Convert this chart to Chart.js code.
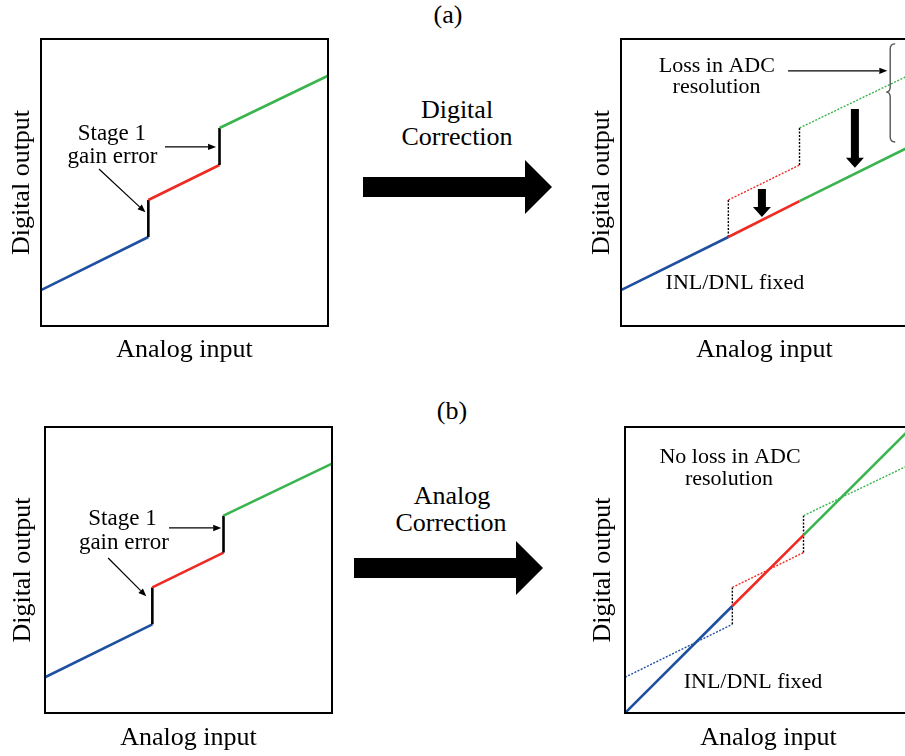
<!DOCTYPE html>
<html>
<head>
<meta charset="utf-8">
<script src="https://cdn.jsdelivr.net/npm/chart.js@4.4.1/dist/chart.umd.min.js"></script>
<style>
  html, body { margin: 0; padding: 0; background: #fff; overflow: hidden; width: 905px; height: 756px; }
  body { position: relative; font-family: "Liberation Serif", "Times New Roman", serif; color: #000; }
  canvas { position: absolute; }
  .lbl { position: absolute; font-size: 26px; line-height: 1; white-space: nowrap; transform: translate(-50%, -50%); }
  .bigArrow { position: absolute; width: 189px; height: 54px; background: #000;
    clip-path: polygon(0 17px, 162px 17px, 162px 0, 189px 27px, 162px 54px, 162px 37px, 0 37px); }
</style>
</head>
<body>
<div class="lbl" style="left:448px; top:15px;">(a)</div>
<div class="lbl" style="left:457px; top:110px;">Digital</div>
<div class="lbl" style="left:457px; top:137px;">Correction</div>
<div class="bigArrow" style="left:363px; top:160px;"></div>

<div class="lbl" style="left:452px; top:411px;">(b)</div>
<div class="lbl" style="left:452px; top:496px;">Analog</div>
<div class="lbl" style="left:451px; top:523px;">Correction</div>
<div class="bigArrow" style="left:354px; top:541px;"></div>

<canvas id="tl" width="340" height="380" style="left:0; top:0;"></canvas>
<canvas id="tr" width="340" height="380" style="left:580px; top:0;"></canvas>
<canvas id="bl" width="340" height="366" style="left:0; top:390px;"></canvas>
<canvas id="br" width="340" height="366" style="left:580px; top:390px;"></canvas>

<script>
// --- DATA (percent of full scale) ---
// analog input where the stage-1 sub-range changes
const stepX = [0, 37.4, 62.2, 100];
// uncorrected output of each sub-range: [start, end]
const blueY = [12.5, 31.0];
const redY = [43.9, 56.1];
const greenY = [69.0, 87.2];
// after digital correction: segments moved down onto one line
const digitalY = [12.5, 31.0, 43.5, 62.2];
// after analog correction: gain restored, one full-scale line
const analogY = [0, 37.4, 62.2, 100];

const BLUE = '#1f4f9f';
const RED = '#ee2a22';
const GREEN = '#3ab44e';
const BLACK = '#000000';

const stairColors = [BLUE, BLACK, RED, BLACK, GREEN];
const lineColors = [BLUE, RED, GREEN];

const stairPoints = [
    { x: stepX[0], y: blueY[0] }, { x: stepX[1], y: blueY[1] },
    { x: stepX[1], y: redY[0] }, { x: stepX[2], y: redY[1] },
    { x: stepX[2], y: greenY[0] }, { x: stepX[3], y: greenY[1] }
];
const digitalPoints = stepX.map((x, i) => ({ x: x, y: digitalY[i] }));
const analogPoints = stepX.map((x, i) => ({ x: x, y: analogY[i] }));

// --- DATASET HELPERS ---
function solid(points, colors) {
    return {
        data: points, showLine: true, pointRadius: 0, borderWidth: 2.6,
        borderColor: colors[0], segment: { borderColor: c => colors[c.p0DataIndex] }
    };
}
function dotted(points, colors) {
    return {
        data: points, showLine: true, pointRadius: 0, borderWidth: 1.4, borderDash: [2, 1.5],
        borderColor: colors[0], segment: { borderColor: c => colors[c.p0DataIndex] }
    };
}

// --- ANNOTATIONS (frame, labels, arrows, brace) ---
function notesPlugin(items) {
    return {
        id: 'notes',
        afterDraw(chart) {
            const { ctx, chartArea: a, scales: { x, y } } = chart;
            const px = v => x.getPixelForValue(v);
            const py = v => y.getPixelForValue(v);
            ctx.save();
            ctx.strokeStyle = '#000';
            ctx.lineWidth = 2;
            ctx.strokeRect(a.left, a.top, a.right - a.left, a.bottom - a.top);
            ctx.fillStyle = '#000';
            ctx.textAlign = 'center';
            ctx.textBaseline = 'middle';
            items.forEach(it => {
                if (it.text) {
                    ctx.font = `${it.size || 22}px "Liberation Serif", serif`;
                    ctx.fillText(it.text, px(it.x), py(it.y));
                } else if (it.arrow) {
                    const x0 = px(it.arrow[0]), y0 = py(it.arrow[1]);
                    const x1 = px(it.arrow[2]), y1 = py(it.arrow[3]);
                    const ang = Math.atan2(y1 - y0, x1 - x0);
                    const hl = 8, hw = 3.2;
                    ctx.lineWidth = 1.2;
                    ctx.strokeStyle = it.color || '#000';
                    ctx.beginPath();
                    ctx.moveTo(x0, y0);
                    ctx.lineTo(x1 - hl * Math.cos(ang), y1 - hl * Math.sin(ang));
                    ctx.stroke();
                    ctx.beginPath();
                    ctx.moveTo(x1, y1);
                    ctx.lineTo(x1 - hl * Math.cos(ang) + hw * Math.sin(ang), y1 - hl * Math.sin(ang) - hw * Math.cos(ang));
                    ctx.lineTo(x1 - hl * Math.cos(ang) - hw * Math.sin(ang), y1 - hl * Math.sin(ang) + hw * Math.cos(ang));
                    ctx.closePath();
                    ctx.fill();
                } else if (it.down) {
                    const cx = px(it.down[0]), yt = py(it.down[1]), yb = py(it.down[2]);
                    ctx.beginPath();
                    ctx.moveTo(cx - 4, yt);
                    ctx.lineTo(cx + 4, yt);
                    ctx.lineTo(cx + 4, yb - 10);
                    ctx.lineTo(cx + 9, yb - 10);
                    ctx.lineTo(cx, yb);
                    ctx.lineTo(cx - 9, yb - 10);
                    ctx.lineTo(cx - 4, yb - 10);
                    ctx.closePath();
                    ctx.fill();
                } else if (it.brace) {
                    const bx = px(it.brace[0]);
                    const yTop = py(it.brace[1]), yMid = py(it.brace[2]), yBot = py(it.brace[3]);
                    ctx.strokeStyle = '#555';
                    ctx.lineWidth = 1.4;
                    ctx.beginPath();
                    ctx.moveTo(bx + 5, yTop);
                    ctx.quadraticCurveTo(bx, yTop, bx, yTop + 5);
                    ctx.lineTo(bx, yMid - 5);
                    ctx.quadraticCurveTo(bx, yMid, bx - 4, yMid);
                    ctx.quadraticCurveTo(bx, yMid, bx, yMid + 5);
                    ctx.lineTo(bx, yBot - 5);
                    ctx.quadraticCurveTo(bx, yBot, bx + 5, yBot);
                    ctx.stroke();
                }
            });
            ctx.restore();
        }
    };
}

// --- CHART BUILDER ---
const TITLE_FONT = { family: '"Liberation Serif", serif', size: 26, lineHeight: 1.2 };
const TITLE_H = 26 * 1.2;

function buildPanel(id, canvasBox, area, yTitleX, xTitleY, datasets, notes) {
    const [cl, ct, cw, ch] = canvasBox;
    const [L, T, R, B] = area;
    const xPadTop = xTitleY - B - TITLE_H / 2;
    const yPadBottom = L - yTitleX - TITLE_H / 2;
    const padding = {
        left: yTitleX - TITLE_H / 2 - cl,
        top: T - ct,
        right: cl + cw - R,
        bottom: ct + ch - (B + TITLE_H + xPadTop)
    };
    return new Chart(document.getElementById(id), {
        type: 'scatter',
        data: { datasets: datasets },
        options: {
            responsive: false,
            animation: false,
            devicePixelRatio: 1,
            layout: { padding: padding },
            plugins: { legend: { display: false }, tooltip: { enabled: false } },
            scales: {
                x: {
                    type: 'linear', min: 0, max: 100,
                    ticks: { display: false },
                    grid: { display: false, drawTicks: false },
                    border: { display: false },
                    title: { display: true, text: 'Analog input', color: '#000', font: TITLE_FONT, padding: { top: xPadTop, bottom: 0 } }
                },
                y: {
                    type: 'linear', min: 0, max: 100,
                    ticks: { display: false },
                    grid: { display: false, drawTicks: false },
                    border: { display: false },
                    title: { display: true, text: 'Digital output', color: '#000', font: TITLE_FONT, padding: { top: 0, bottom: yPadBottom } }
                }
            }
        },
        plugins: [notesPlugin(notes)]
    });
}

// (a) top-left: stage 1 gain error
buildPanel('tl', [0, 0, 340, 380], [41, 39, 328, 326], 22, 350,
    [solid(stairPoints, stairColors)],
    [
        { text: 'Stage 1', x: 24.7, y: 67.0, size: 23 },
        { text: 'gain error', x: 24.9, y: 59.0, size: 23 },
        { arrow: [43.2, 62.4, 61.0, 62.4] },
        { arrow: [20.2, 54.7, 36.4, 39.6] }
    ]);

// (a) top-right: digital correction
buildPanel('tr', [580, 0, 340, 380], [621, 39, 908, 326], 602, 350,
    [solid(digitalPoints, lineColors), dotted(stairPoints, stairColors)],
    [
        { text: 'Loss in ADC', x: 33.4, y: 90.6 },
        { text: 'resolution', x: 33.3, y: 83.3 },
        { text: 'INL/DNL fixed', x: 39.7, y: 15.0 },
        { arrow: [58.2, 88.9, 92.8, 88.9] },
        { brace: [93.8, 98.3, 81.5, 64.1] },
        { down: [49.1, 47.7, 38.0] },
        { down: [81.5, 75.6, 55.1] }
    ]);

// (b) bottom-left: stage 1 gain error
buildPanel('bl', [0, 390, 340, 366], [45, 427, 332, 713], 23, 738,
    [solid(stairPoints, stairColors)],
    [
        { text: 'Stage 1', x: 27.0, y: 67.8, size: 23 },
        { text: 'gain error', x: 27.5, y: 59.4, size: 23 },
        { arrow: [43.2, 64.7, 61.4, 64.7] },
        { arrow: [22.0, 54.2, 35.3, 40.8] }
    ]);

// (b) bottom-right: analog correction
buildPanel('br', [580, 390, 340, 366], [625, 427, 912, 713], 603, 738,
    [solid(analogPoints, lineColors), dotted(stairPoints, stairColors)],
    [
        { text: 'No loss in ADC', x: 36.6, y: 89.5 },
        { text: 'resolution', x: 36.2, y: 81.8 },
        { text: 'INL/DNL fixed', x: 44.6, y: 10.8 }
    ]);
</script>
</body>
</html>
